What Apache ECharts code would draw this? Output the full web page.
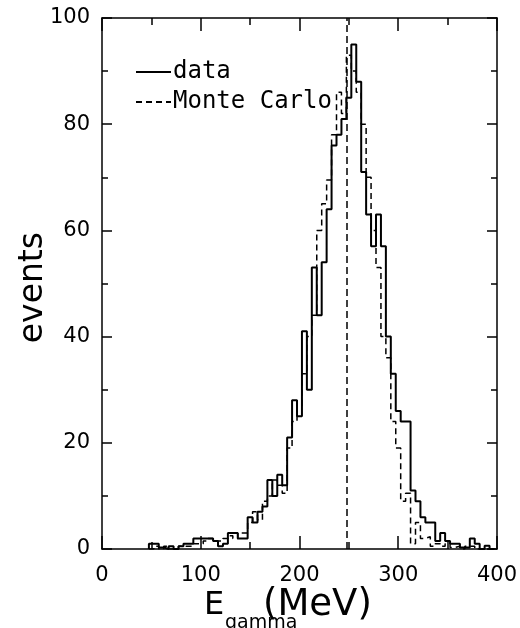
<!DOCTYPE html>
<html>
<head>
<meta charset="utf-8">
<script src="https://cdn.jsdelivr.net/npm/echarts@6/dist/echarts.min.js"></script>
<style>html,body{margin:0;background:#fff}#chart{width:520px;height:628px}</style>
</head>
<body>
<div id="chart"></div>
<script>
// bin centres in MeV (5 MeV wide bins)
var binCenters = [50,55,60,65,70,75,80,85,90,95,100,105,110,115,120,125,130,135,140,145,
  150,155,160,165,170,175,180,185,190,195,200,205,210,215,220,225,230,235,240,245,
  250,255,260,265,270,275,280,285,290,295,300,305,310,315,320,325,330,335,340,345,
  350,355,360,365,370,375,380,385,390,395];
var dataCounts = [1,1,0.3,0,0.5,0,0.5,1,1,2,2,2,2,1.5,0.5,1,3,3,2,2,
  6,5,7,8,13,10,14,12,21,28,25,41,30,53,44,54,64,76,78,81,
  85,95,88,71,63,57,63,57,40,33,26,24,24,11,9,6,5,5,1.5,3,
  1.5,1,1,0.3,0.3,2,1,0,0.6,0];
var mcCounts = [0,0.5,0,0.5,0,0,0.5,0.5,0.5,1,1,1.5,2,1.5,1.5,2,2.5,2,3,3,
  5,7,5.5,9,10,13,12,10.5,19,24,27,33,40,44,60,65,69.5,78,86,82,
  93,90,86,80,70,60,53,40,36,24,19,9,10.5,1,5,2,2.3,0.5,1,0.5,
  1,0.3,0.5,0,0.5,0.5,0,0,0,0];
var binWidth = 5;
var cutValue = 248;

function stepPoints(counts) {
  var pts = [[binCenters[0] - binWidth / 2, 0]];
  for (var i = 0; i < binCenters.length; i++) {
    pts.push([binCenters[i] - binWidth / 2, counts[i]]);
  }
  var last = binCenters[binCenters.length - 1] + binWidth / 2;
  pts.push([last, counts[counts.length - 1]]);
  pts.push([last, 0]);
  return pts;
}

var chart = echarts.init(document.getElementById('chart'));
var axisColor = '#000';
var tickFont = {fontFamily: 'DejaVu Sans', fontSize: 21, color: '#000'};

function xAx(pos, labels) {
  return {
    type: 'value', position: pos, min: 0, max: 400, interval: 100,
    axisLine: {show: true, onZero: false, lineStyle: {color: axisColor, width: 1.5}},
    axisTick: {show: true, inside: true, length: 13, lineStyle: {color: axisColor, width: 1.5}},
    minorTick: {show: true, splitNumber: 2, length: 7, lineStyle: {color: axisColor, width: 1.5}},
    axisLabel: Object.assign({show: labels, margin: 16}, tickFont),
    splitLine: {show: false}
  };
}
function yAx(pos, labels) {
  return {
    type: 'value', position: pos, min: 0, max: 100, interval: 20,
    axisLine: {show: true, onZero: false, lineStyle: {color: axisColor, width: 1.5}},
    axisTick: {show: true, inside: true, length: 10, lineStyle: {color: axisColor, width: 1.5}},
    minorTick: {show: true, splitNumber: 2, length: 6, lineStyle: {color: axisColor, width: 1.5}},
    axisLabel: Object.assign({show: labels, margin: 12}, tickFont),
    splitLine: {show: false}
  };
}

chart.setOption({
  animation: false,
  backgroundColor: '#fff',
  grid: {left: 102, right: 22, top: 18, bottom: 79},
  xAxis: [xAx('bottom', true), xAx('top', false)],
  yAxis: [yAx('left', true), yAx('right', false)],
  legend: {
    orient: 'vertical', left: 130, top: 55, itemWidth: 35, itemHeight: 14, itemGap: 6,
    itemStyle: {opacity: 0},
    textStyle: {fontFamily: 'DejaVu Sans Mono', fontSize: 24, color: '#000', padding: [0, 0, 0, -3]},
    data: ['data', 'Monte Carlo']
  },
  series: [
    {
      name: 'data', type: 'line', step: 'end', symbol: 'none',
      itemStyle: {color: '#000'},
      lineStyle: {color: '#000', width: 2},
      data: stepPoints(dataCounts),
      markLine: {
        silent: true, symbol: 'none', label: {show: false},
        lineStyle: {color: '#000', width: 1.5, type: [7, 4]},
        data: [{xAxis: cutValue}]
      }
    },
    {
      name: 'Monte Carlo', type: 'line', step: 'end', symbol: 'none',
      itemStyle: {color: '#000'},
      lineStyle: {color: '#000', width: 1.5, type: [6, 4]},
      data: stepPoints(mcCounts)
    }
  ],
  graphic: [
    {type: 'text', left: 17, top: 232, rotation: Math.PI / 2,
      style: {text: 'events', fontFamily: 'DejaVu Sans', fontSize: 33, fill: '#000'}},
    {type: 'text', left: 204, top: 590,
      style: {text: 'E', fontFamily: 'DejaVu Sans', fontSize: 32, fill: '#000'}},
    {type: 'text', left: 225, top: 614,
      style: {text: 'gamma', fontFamily: 'DejaVu Sans', fontSize: 19, fill: '#000'}},
    {type: 'text', left: 263, top: 587,
      style: {text: '(MeV)', fontFamily: 'DejaVu Sans', fontSize: 37, fill: '#000'}}
  ]
});
</script>
</body>
</html>
